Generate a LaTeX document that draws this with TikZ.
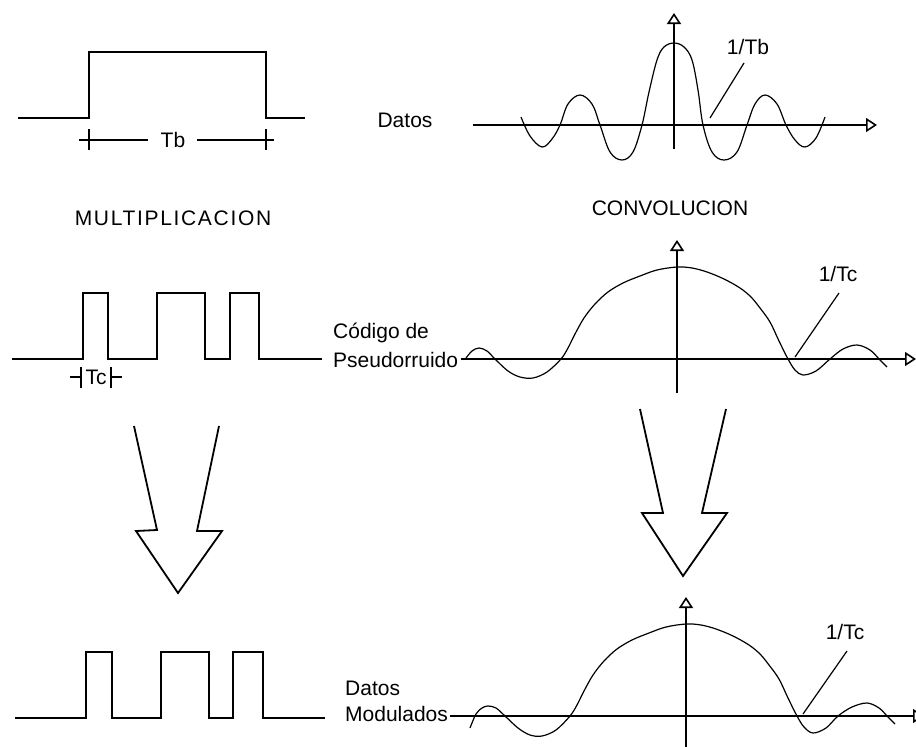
\documentclass[tikz,border=0pt]{standalone}
\usepackage{fontspec}
\setmainfont{Liberation Sans}
\usetikzlibrary{arrows.meta}
\tikzset{
  pulse/.style={line width=1.8pt, line join=miter},
  axisline/.style={line width=1.6pt},
  axarrow/.style={line width=1.6pt, -{Triangle[open,length=11pt,width=14pt]}},
  curve/.style={line width=1.2pt},
  leader/.style={line width=1.2pt},
  bigarrow/.style={line width=1.8pt, line join=miter},
  lbl/.style={font=\fontsize{21}{24}\selectfont, inner sep=0pt, text=black},
  tick/.style={line width=1.6pt}
}
\begin{document}
\begin{tikzpicture}[x=1pt,y=-1pt]
\useasboundingbox[fill=white] (0,0) rectangle (916,747);

% ---------- top left: single pulse ----------
\draw[pulse] (18,118) -- (89,118) -- (89,52) -- (266,52) -- (266,118) -- (305,118);
\node[lbl] (tb) at (173,140) {Tb};
\coordinate (tbL) at (79,140);
\coordinate (tbLi) at (148,140);
\coordinate (tbRi) at (197,140);
\coordinate (tbR) at (274,140);
\draw[tick] (tbL) -- (tbLi);
\draw[tick] (tbRi) -- (tbR);
\draw[tick] (89,129) -- (89,150);
\draw[tick] (266,129) -- (266,150);

% ---------- top right: sinc ----------
\node[lbl] (datos) at (405,120) {Datos};
\coordinate (ax1o) at (473,125);
\coordinate (ax1e) at (877,125);
\coordinate (ay1o) at (674,149);
\coordinate (ay1e) at (674,13);
\draw[axarrow] (ax1o) -- (ax1e);
\draw[axarrow] (ay1o) -- (ay1e);
\draw[curve] plot[smooth, tension=0.6] coordinates {
 (521,117) (530,136) (542,147) (552,139) (560,125) (568,104) (580,95) (592,104) (600,125)
 (610,152) (622,160) (633,152) (642,125) (649,92) (657,60) (664,47) (674,43) (684,47)
 (692,60) (698,90) (703,125) (712,152) (724,160) (737,152) (747,125) (755,104) (765,95)
 (777,104) (786,125) (795,140) (805,147) (816,138) (825,117)};
\node[lbl] (itb) at (748,47) {1/Tb};
\coordinate (itbA) at (744,63);
\coordinate (itbB) at (710,118);
\draw[leader] (itbA) -- (itbB);

% ---------- middle texts ----------
\node[lbl] (mult) at (173,218) {\addfontfeature{LetterSpace=8}MULTIPLICACION};
\node[lbl] (conv) at (670,208) {CONVOLUCION};

% ---------- middle left: PN code ----------
\draw[pulse] (12,359) -- (83,359) -- (83,293) -- (108,293) -- (108,359) -- (157,359)
  -- (157,293) -- (205,293) -- (205,359) -- (230,359) -- (230,293) -- (259,293)
  -- (259,359) -- (322,359);
\node[lbl] (tc) at (96,377) {Tc};
\draw[tick] (70,377) -- (81,377);
\draw[tick] (81,367) -- (81,388);
\draw[tick] (111,367) -- (111,388);
\draw[tick] (111,377) -- (122,377);

% ---------- middle right: chip spectrum ----------
\node[lbl, anchor=west] (cod) at (333,333) {Código de};
\node[lbl, anchor=west] (pseu) at (333,360) {Pseudorruido};
\coordinate (ax2e) at (916,359);
\coordinate (ay2o) at (677,393);
\coordinate (ay2e) at (677,240);
\draw[axarrow] (pseu.east) ++(3,-1) coordinate (ax2o) -- (ax2e);
\draw[axarrow] (ay2o) -- (ay2e);
\draw[curve] plot[smooth, tension=0.55] coordinates {
 (466,358) (472,351) (479,348) (487,351) (495,359) (508,371) (520,377) (533,378)
 (547,372) (561,359) (568,348) (575,334) (584,318) (595,304) (608,292) (623,283) (640,276)
 (657,270) (677,267) (692,268) (707,272) (724,279) (740,288) (751,297) (760,308)
 (770,322) (779,341) (788,359) (795,370) (803,375) (816,371) (830,359) (843,349)
 (857,345) (870,350) (880,360) (887,367)};
\node[lbl] (itc1) at (838,274) {1/Tc};
\coordinate (itc1A) at (839,293);
\coordinate (itc1B) at (795,357);
\draw[leader] (itc1A) -- (itc1B);

% ---------- big hollow arrows ----------
\draw[bigarrow] (134,426) -- (157,530) -- (136,531) -- (178,593) -- (222,531) -- (197,531) -- (219,426);
\draw[bigarrow] (640,409) -- (663,513) -- (642,513) -- (683,576) -- (727,513) -- (702,513) -- (726,409);

% ---------- bottom left: modulated data ----------
\draw[pulse] (15,718) -- (86,718) -- (86,652) -- (112,652) -- (112,718) -- (161,718)
  -- (161,652) -- (209,652) -- (209,718) -- (233,718) -- (233,652) -- (263,652)
  -- (263,718) -- (325,718);

% ---------- bottom right: modulated spectrum ----------
\node[lbl, anchor=west] (dat2) at (345,688) {Datos};
\node[lbl, anchor=west] (modu) at (345,714) {Modulados};
\coordinate (ax3e) at (924,716);
\coordinate (ay3o) at (686,750);
\coordinate (ay3e) at (686,597);
\draw[axarrow] (modu.east) ++(2,2) coordinate (ax3o) -- (ax3e);
\draw[axarrow] (ay3o) -- (ay3e);
\draw[curve] plot[smooth, tension=0.55] coordinates {
 (470,728) (476,714) (482,708) (488,706) (496,708) (505,716) (518,728) (530,735) (542,736)
 (556,730) (570,716) (577,705) (584,691) (593,675) (604,661) (617,649) (632,640) (649,633)
 (666,627) (686,624) (701,625) (716,629) (733,636) (749,645) (760,654) (769,665)
 (779,679) (788,698) (797,716) (804,727) (813,733) (826,728) (838,716) (852,707)
 (867,703) (879,708) (888,717) (895,724)};
\node[lbl] (itc2) at (845,632) {1/Tc};
\coordinate (itc2A) at (847,651);
\coordinate (itc2B) at (803,714);
\draw[leader] (itc2A) -- (itc2B);
\end{tikzpicture}
\end{document}
